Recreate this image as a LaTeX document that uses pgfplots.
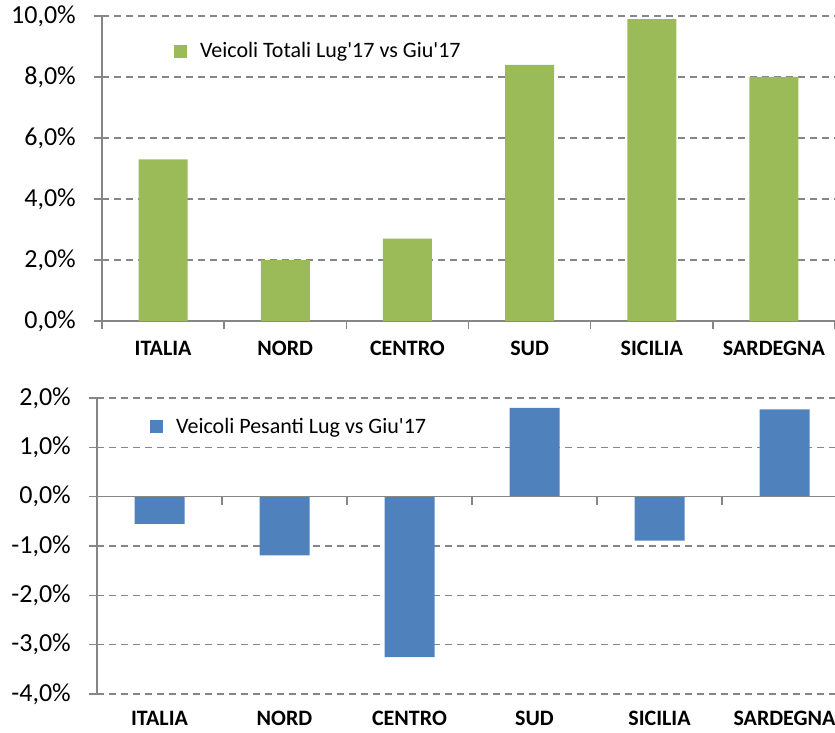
\documentclass[border=0pt]{standalone}
\usepackage{pgfplots}
\pgfplotsset{compat=1.18}
\usepackage{fontspec}
\setmainfont{Carlito}[Ligatures=TeXOff]
\definecolor{vgreen}{HTML}{9BBB59}
\definecolor{vblue}{HTML}{4F81BD}
\definecolor{gridgray}{RGB}{134,134,134}
\begin{document}
\begin{tikzpicture}[x=1pt,y=1pt]
\pgfplotsset{
  chartbase/.style={
    scale only axis,
    axis x line=bottom, axis y line=left,
    axis line style={gridgray, line width=1.5pt, -},
    xmin=-0.5, xmax=5.5,
    xtick={-0.5,0.5,...,5.5},
    xticklabels={ITALIA,NORD,CENTRO,SUD,SICILIA,SARDEGNA},
    x tick label as interval,
    ymajorgrids,
    grid style={gridgray, dash pattern=on 7pt off 5pt, line width=1.5pt},
    tick align=outside, major tick length=8pt,
    tick style={gridgray, line width=1.5pt},
    xticklabel style={font=\fontsize{22}{22}\selectfont\bfseries, yshift=-9pt},
    yticklabel style={font=\fontsize{26}{26}\selectfont, inner sep=0pt, xshift=-18pt},
    yticklabel={\pgfmathprintnumber{\tick}\%},
    /pgf/number format/use comma,
    /pgf/number format/fixed,
    /pgf/number format/fixed zerofill,
    /pgf/number format/precision=1,
    /pgf/number format/assume math mode=true,
    legend style={draw=none, fill=none, inner sep=0pt, anchor=west,
      font=\fontsize{22}{22}\selectfont, column sep=11pt},
  },
  sq/.style={legend image code/.code={\fill[##1] (0pt,-6.5pt) rectangle (13pt,6.5pt);}},
}
% top chart
\begin{axis}[chartbase,
  at={(102pt,411pt)}, anchor=south west, width=733pt, height=305pt,
  ymin=0, ymax=10, ytick={0,2,...,10},
  legend style={at={(0.098,0.885)}},
]
\addplot[ybar, bar width=49pt, fill=vgreen, draw=none, sq] coordinates {
  (0,5.3) (1,2.0) (2,2.7) (3,8.4) (4,9.9) (5,8.0)};
\addlegendentry{Veicoli Totali Lug'17 vs Giu'17}
\end{axis}
% bottom chart
\begin{axis}[chartbase,
  at={(97pt,38pt)}, anchor=south west, width=750pt, height=296pt,
  ymin=-4, ymax=2, ytick={-4,-3,...,2},
  x axis line style={draw=none},
  xtick style={draw=none},
  xticklabel style={yshift=3pt},
  legend style={at={(0.0707,0.905)}},
]
\addplot[ybar, bar width=50pt, fill=vblue, draw=none, sq] coordinates {
  (0,-0.55) (1,-1.19) (2,-3.25) (3,1.80) (4,-0.89) (5,1.77)};
\addlegendentry{Veicoli Pesanti Lug vs Giu'17}
\draw[gridgray, line width=1.5pt] (axis cs:-0.5,0) -- (axis cs:5.5,0);
\pgfplotsinvokeforeach{0.5,1.5,2.5,3.5,4.5,5.5}{
  \draw[gridgray, line width=1.5pt] (axis cs:#1,0) -- ++(0pt,-8pt);
}
\end{axis}
\pgfresetboundingbox
\path[use as bounding box] (0pt,0pt) rectangle (835pt,732pt);
\end{tikzpicture}
\end{document}
